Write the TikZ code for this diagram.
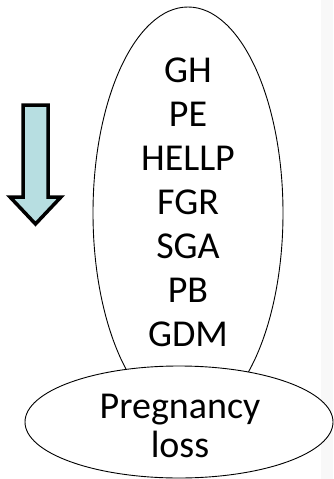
\documentclass[tikz,border=0pt]{standalone}
\usepackage{fontspec}
\setmainfont{Carlito}
\usetikzlibrary{shapes.geometric}
\definecolor{arrowfill}{RGB}{183,222,225}
\definecolor{stripgray}{RGB}{248,248,248}

\begin{document}
\begin{tikzpicture}[x=1pt,y=-1pt,
  bubble/.style={draw,ellipse,fill=white,line width=0.9pt,inner sep=0pt},
  bigtext/.style={font=\fontsize{38}{44}\selectfont,inner sep=0pt}]
  \useasboundingbox (0,0) rectangle (333,479);
  %% light strip along the right edge
  \fill[stripgray] (321,0) rectangle (333,479);

  %% the downward block arrow
  \draw[line width=3.5pt,fill=arrowfill,line join=miter]
    (23,105) -- (48,105) -- (48,197) -- (61,197) -- (35.5,224)
    -- (10,197) -- (23,197) -- cycle;

  %% tall ellipse with the list of outcomes
  \node[bubble,minimum width=190pt,minimum height=412pt] (RISK) at (188,213) {};
  \foreach \lbl [count=\i from 0] in {GH,PE,HELLP,FGR,SGA,PB,GDM}
  {
    \node[bigtext,anchor=base] (ITEM\i) at (188,82.3+44*\i) {\lbl};
  }

  %% flat ellipse at the bottom (base anchor sits on the last line)
  \node[bubble,minimum width=308pt,minimum height=112pt] (LOSS) at (179,422) {};
  \node[bigtext,align=center,anchor=base,font=\fontsize{38}{39}\selectfont] (LOSSTXT) at (180,457) {Pregnancy\\loss};
\end{tikzpicture}
\end{document}
